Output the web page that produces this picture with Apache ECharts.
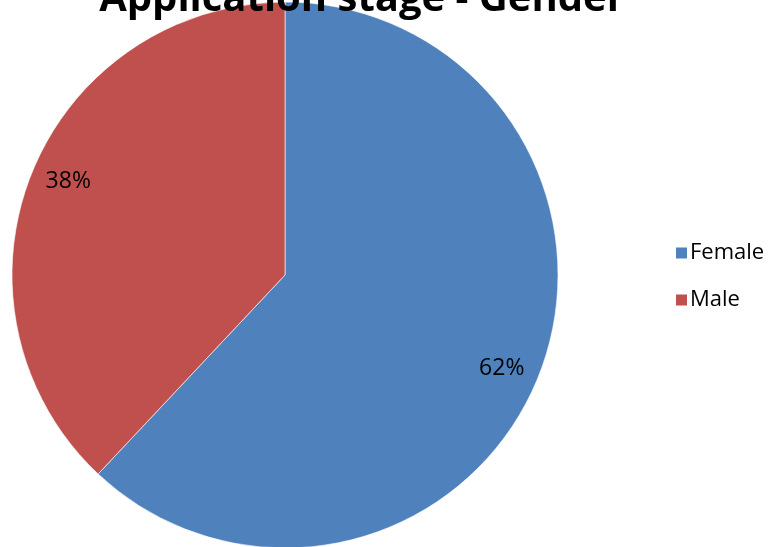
<!DOCTYPE html>
<html>
<head>
<meta charset="utf-8">
<script src="https://cdn.jsdelivr.net/npm/echarts@6/dist/echarts.min.js"></script>
<style>
  html, body { margin: 0; padding: 0; background: #fff; }
  #chart { width: 772px; height: 547px; }
</style>
</head>
<body>
<div id="chart"></div>
<script>
// Gender split at the application stage
const titleText = 'Application stage - Gender';
const categories = ['Female', 'Male'];
const shares = [62, 38];
const colors = ['#4F81BD', '#C0504D'];

const data = categories.map((name, i) => ({ name, value: shares[i] }));
const FONT = '"Open Sans", sans-serif';

const chart = echarts.init(document.getElementById('chart'), null, { renderer: 'canvas' });
chart.setOption({
  animation: false,
  color: colors,
  title: {
    text: titleText,
    left: 357,
    textAlign: 'center',
    top: -25,
    textStyle: { fontFamily: FONT, fontWeight: 'bold', fontSize: 40, color: '#000' }
  },
  legend: {
    orient: 'vertical',
    left: 669,
    top: 237,
    itemWidth: 13,
    itemHeight: 13,
    itemGap: 25,
    icon: 'rect',
    data: categories,
    textStyle: { fontFamily: FONT, fontSize: 22, color: '#000', padding: [0, 0, 0, -3] }
  },
  series: [
    {
      type: 'pie',
      center: [285, 275],
      radius: [0, 273],
      startAngle: 90,
      clockwise: true,
      data: data,
      label: { show: false },
      labelLine: { show: false },
      itemStyle: { borderColor: '#fff', borderWidth: 0.6 },
      emphasis: { disabled: true }
    },
    {
      // transparent ring that carries the percentage labels near the rim
      type: 'pie',
      center: [285, 275],
      radius: [193, 273],
      startAngle: 88.3,
      clockwise: true,
      silent: true,
      data: data,
      itemStyle: { color: 'transparent' },
      label: {
        show: true,
        position: 'inside',
        formatter: p => p.value + '%',
        fontFamily: FONT,
        fontSize: 23,
        color: '#000'
      },
      labelLine: { show: false },
      emphasis: { disabled: true }
    }
  ]
});
</script>
</body>
</html>
